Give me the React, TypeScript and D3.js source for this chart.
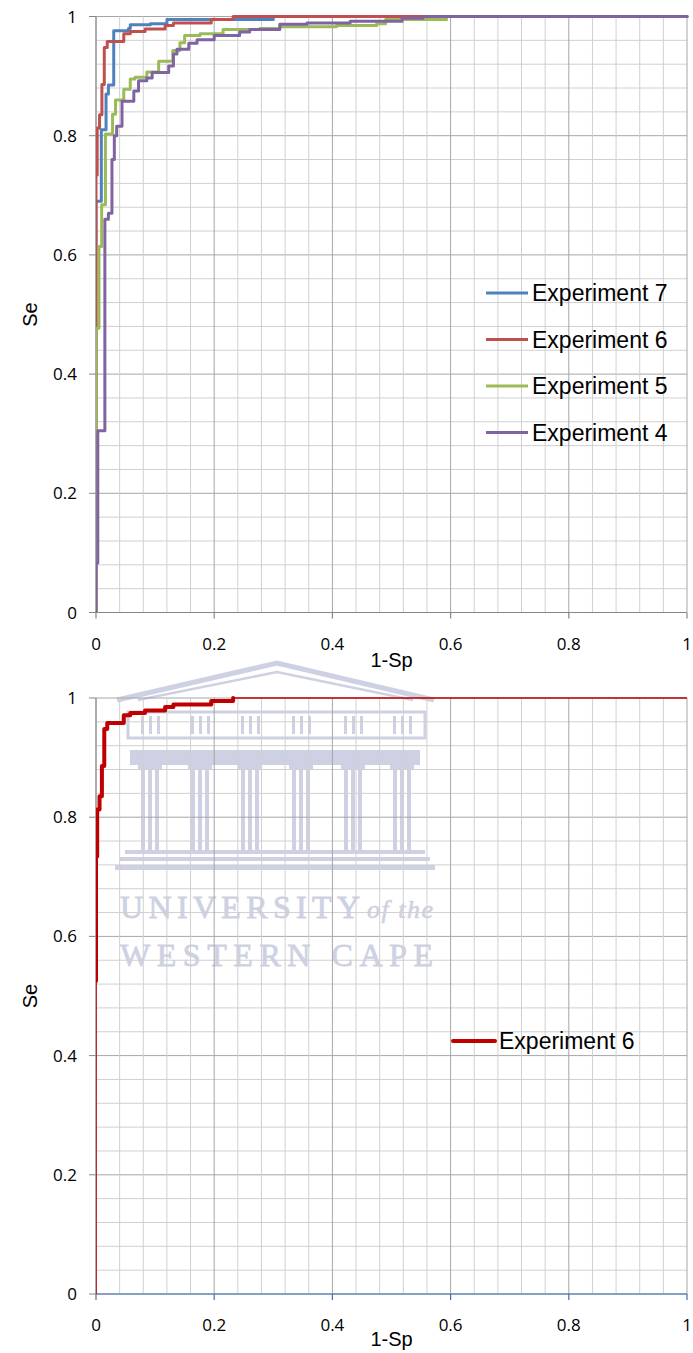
import React from 'react';
import * as d3 from 'd3';

type Pt = [number, number];

// Axis ticks
const TICKS = [0, 0.2, 0.4, 0.6, 0.8, 1];
const TICK_LABELS = ['0', '0.2', '0.4', '0.6', '0.8', '1'];
const GRID_COUNT = 25; // minor grid every 0.04

const X_TITLE = '1-Sp';
const Y_TITLE = 'Se';

// ROC curves: [1-Sp, Se]
const exp7: Pt[] = [
  [0, 0], [0, 0.69], [0.009, 0.69], [0.009, 0.81], [0.017, 0.81], [0.017, 0.87],
  [0.021, 0.87], [0.021, 0.885], [0.03, 0.885], [0.03, 0.976], [0.055, 0.976],
  [0.055, 0.98], [0.058, 0.98], [0.058, 0.986], [0.092, 0.986], [0.092, 0.988],
  [0.12, 0.988], [0.12, 0.995], [0.3, 0.995], [0.3, 1], [1, 1],
];

const exp6: Pt[] = [
  [0, 0], [0, 0.525], [0, 0.734], [0.002, 0.734], [0.002, 0.813], [0.006, 0.813],
  [0.006, 0.835], [0.01, 0.835], [0.01, 0.886], [0.014, 0.886], [0.014, 0.948],
  [0.019, 0.948], [0.019, 0.958], [0.047, 0.958], [0.047, 0.971], [0.058, 0.971],
  [0.058, 0.975], [0.083, 0.975], [0.083, 0.979], [0.117, 0.979], [0.117, 0.985],
  [0.131, 0.985], [0.131, 0.989], [0.195, 0.989], [0.195, 0.995], [0.232, 0.995],
  [0.232, 1], [1, 1],
];

const exp5: Pt[] = [
  [0, 0], [0, 0.477], [0.005, 0.477], [0.005, 0.614], [0.0096, 0.614], [0.0096, 0.684],
  [0.016, 0.684], [0.016, 0.803], [0.028, 0.803], [0.028, 0.836], [0.033, 0.836],
  [0.033, 0.86], [0.047, 0.86], [0.047, 0.878], [0.058, 0.878], [0.058, 0.895],
  [0.066, 0.895], [0.066, 0.898], [0.086, 0.898], [0.086, 0.907], [0.106, 0.907],
  [0.106, 0.925], [0.13, 0.925], [0.13, 0.943], [0.142, 0.943], [0.142, 0.956],
  [0.15, 0.956], [0.15, 0.968], [0.176, 0.968], [0.176, 0.971], [0.215, 0.971],
  [0.215, 0.978], [0.277, 0.978], [0.277, 0.98], [0.311, 0.98], [0.311, 0.983],
  [0.407, 0.983], [0.407, 0.985], [0.475, 0.985], [0.475, 0.988], [0.49, 0.988],
  [0.49, 0.995], [0.593, 0.995], [0.593, 1], [1, 1],
];

const exp4: Pt[] = [
  [0, 0], [0, 0.083], [0.003, 0.083], [0.003, 0.305], [0.015, 0.305], [0.015, 0.66],
  [0.021, 0.66], [0.021, 0.67], [0.027, 0.67], [0.027, 0.76], [0.031, 0.76],
  [0.031, 0.8], [0.035, 0.8], [0.035, 0.816], [0.044, 0.816], [0.044, 0.858],
  [0.064, 0.858], [0.064, 0.875], [0.072, 0.875], [0.072, 0.892], [0.086, 0.892],
  [0.086, 0.897], [0.095, 0.897], [0.095, 0.906], [0.123, 0.906], [0.123, 0.917],
  [0.131, 0.917], [0.131, 0.937], [0.137, 0.937], [0.137, 0.945], [0.157, 0.945],
  [0.157, 0.955], [0.171, 0.955], [0.171, 0.961], [0.2, 0.961], [0.2, 0.968],
  [0.243, 0.968], [0.243, 0.974], [0.26, 0.974], [0.26, 0.978], [0.311, 0.978],
  [0.311, 0.987], [0.357, 0.987], [0.357, 0.989], [0.43, 0.989], [0.43, 0.992],
  [0.518, 0.992], [0.518, 0.997], [0.553, 0.997], [0.553, 1], [1, 1],
];

const TOP_NAMES = ['Experiment 7', 'Experiment 6', 'Experiment 5', 'Experiment 4'];
const TOP_COLORS = ['#4f81bd', '#c0504d', '#9bbb59', '#8064a2'];
const TOP_DATA = [exp7, exp6, exp5, exp4];

const BOTTOM_NAME = 'Experiment 6';
const BOTTOM_COLOR = '#c00000';

const W = 693;
const H = 1353;
const TICK_FONT = '"Open Sans", "Liberation Sans", sans-serif';
const TEXT_FONT = '"Liberation Sans", Arial, sans-serif';

interface Layout { x0: number; x1: number; yTop: number; yBot: number; }
const L1: Layout = { x0: 96, x1: 687, yTop: 16.5, yBot: 612.5 };
const L2: Layout = { x0: 96, x1: 687, yTop: 698, yBot: 1294 };

function Frame({ L, id, xAxisColor, titleDy, children }: { L: Layout; id: string; xAxisColor: string; titleDy: number; children: (x: d3.ScaleLinear<number, number>, y: d3.ScaleLinear<number, number>) => React.ReactNode }) {
  const x = d3.scaleLinear().domain([0, 1]).range([L.x0, L.x1]);
  const y = d3.scaleLinear().domain([0, 1]).range([L.yBot, L.yTop]);
  const grid = d3.range(0, GRID_COUNT + 1).map((i) => i / GRID_COUNT);
  return (
    <g>
      <defs>
        <clipPath id={id}>
          <rect x={L.x0} y={L.yTop - 10} width={L.x1 - L.x0 + 10} height={L.yBot - L.yTop + 10} />
        </clipPath>
      </defs>
      {grid.map((v, i) => (
        <line key={'h' + i} x1={L.x0} x2={L.x1} y1={y(v)} y2={y(v)}
          stroke={i % 5 === 0 ? '#a6a6a6' : '#d0d0d0'} strokeWidth={1} />
      ))}
      {grid.map((v, i) => (
        <line key={'v' + i} x1={x(v)} x2={x(v)} y1={L.yTop} y2={L.yBot}
          stroke={i % 5 === 0 ? '#a6a6a6' : '#d0d0d0'} strokeWidth={1} />
      ))}
      <line x1={L.x0} x2={L.x0} y1={L.yTop} y2={L.yBot} stroke="#868686" strokeWidth={1} />
      {TICKS.map((v, i) => (
        <line key={'yt' + i} x1={L.x0 - 7} x2={L.x0} y1={y(v)} y2={y(v)} stroke="#868686" strokeWidth={1} />
      ))}
      <line x1={L.x0} x2={L.x1} y1={L.yBot} y2={L.yBot} stroke={xAxisColor} strokeWidth={1.2} />
      {TICKS.map((v, i) => (
        <line key={'xt' + i} x1={x(v)} x2={x(v)} y1={L.yBot} y2={L.yBot + 6} stroke={xAxisColor} strokeWidth={1.2} />
      ))}
      {TICKS.map((v, i) => (
        <text key={'yl' + i} x={77} y={y(v) + 6} textAnchor="end" fontFamily={TICK_FONT} fontSize={17} fill="#000">{TICK_LABELS[i]}</text>
      ))}
      {TICKS.map((v, i) => (
        <text key={'xl' + i} x={x(v)} y={L.yBot + 37} textAnchor="middle" fontFamily={TICK_FONT} fontSize={17} fill="#000">{TICK_LABELS[i]}</text>
      ))}
      <text x={(L.x0 + L.x1) / 2} y={L.yBot + titleDy} textAnchor="middle" fontFamily={TEXT_FONT} fontSize={20} fill="#000">{X_TITLE}</text>
      <text transform={`translate(37, ${(L.yTop + L.yBot) / 2}) rotate(-90)`} textAnchor="middle" fontFamily={TEXT_FONT} fontSize={20} fill="#000">{Y_TITLE}</text>
      <g clipPath={`url(#${id})`}>{children(x, y)}</g>
    </g>
  );
}

function Watermark() {
  const c = '#c9cde0';
  const colX = [150, 200, 250, 301, 353, 402];
  const serif = '"Liberation Serif", "DejaVu Serif", serif';
  return (
    <g opacity={0.9}>
      <polyline points="117,700 277,663 434,700" fill="none" stroke={c} strokeWidth={5} />
      <polyline points="138,700 277,672 413,700" fill="none" stroke={c} strokeWidth={2.5} />
      <rect x={128} y={712} width={297} height={26} fill="none" stroke={c} strokeWidth={3} />
      {colX.map((cx, i) => (
        <g key={'tg' + i}>
          <rect x={cx - 9} y={716} width={3} height={18} fill={c} />
          <rect x={cx - 1} y={716} width={3} height={18} fill={c} />
          <rect x={cx + 7} y={716} width={3} height={18} fill={c} />
        </g>
      ))}
      <rect x={130} y={750} width={290} height={15} fill={c} />
      {colX.map((cx, i) => (
        <g key={'col' + i}>
          <rect x={cx - 12} y={765} width={24} height={5} fill={c} />
          <rect x={cx - 9} y={770} width={4} height={80} fill={c} />
          <rect x={cx - 2} y={770} width={4} height={80} fill={c} />
          <rect x={cx + 5} y={770} width={4} height={80} fill={c} />
        </g>
      ))}
      <rect x={125} y={850} width={300} height={4} fill={c} />
      <rect x={120} y={857} width={310} height={4} fill={c} />
      <rect x={115} y={865} width={320} height={5} fill={c} />
      <text x={120} y={918} fontFamily={serif} fontSize={32} fill={c} stroke={c} strokeWidth={0.8} textLength={240} lengthAdjust="spacing">UNIVERSITY</text>
      <text x={367} y={918} fontFamily={serif} fontStyle="italic" fontSize={26} fill={c} stroke={c} strokeWidth={0.6} textLength={66} lengthAdjust="spacing">of the</text>
      <text x={120} y={966} fontFamily={serif} fontSize={32} fill={c} stroke={c} strokeWidth={0.8} textLength={313} lengthAdjust="spacing">WESTERN CAPE</text>
    </g>
  );
}

export default function App() {
  const legendTopY = [293, 339.5, 386, 432.5];
  return (
    <svg width={W} height={H} viewBox={`0 0 ${W} ${H}`}
      style={{ position: 'absolute', left: 0, top: 0, display: 'block', background: '#fff' }}>
      <rect x={0} y={0} width={W} height={H} fill="#fff" />
      <Watermark />
      <Frame L={L1} id="clipTop" xAxisColor="#868686" titleDy={54}>
        {(x, y) => {
          const line = d3.line<Pt>().x((d) => x(d[0])).y((d) => y(d[1]));
          return TOP_DATA.map((data, i) => (
            <path key={i} d={line(data) || ''} fill="none" stroke={TOP_COLORS[i]} strokeWidth={3}
              strokeLinejoin="round" strokeLinecap="round" />
          ));
        }}
      </Frame>
      <Frame L={L2} id="clipBottom" xAxisColor="#3f6fb0" titleDy={52}>
        {(x, y) => {
          const line = d3.line<Pt>().x((d) => x(d[0])).y((d) => y(d[1]));
          const thick = exp6.filter((d) => d[1] >= 0.525 && d[0] <= 0.24);
          return (
            <g>
              <path d={line(exp6) || ''} fill="none" stroke={BOTTOM_COLOR} strokeWidth={1.5} />
              <path d={line(thick) || ''} fill="none" stroke={BOTTOM_COLOR} strokeWidth={4}
                strokeLinejoin="round" strokeLinecap="round" />
            </g>
          );
        }}
      </Frame>
      {TOP_NAMES.map((name, i) => (
        <g key={name}>
          <line x1={486} x2={528} y1={legendTopY[i]} y2={legendTopY[i]} stroke={TOP_COLORS[i]} strokeWidth={3} />
          <text x={532} y={legendTopY[i] + 8.3} fontFamily={TEXT_FONT} fontSize={23} fill="#000">{name}</text>
        </g>
      ))}
      <line x1={453} x2={495} y1={1041} y2={1041} stroke={BOTTOM_COLOR} strokeWidth={4} strokeLinecap="round" />
      <text x={499} y={1049.3} fontFamily={TEXT_FONT} fontSize={23} fill="#000">{BOTTOM_NAME}</text>
    </svg>
  );
}
